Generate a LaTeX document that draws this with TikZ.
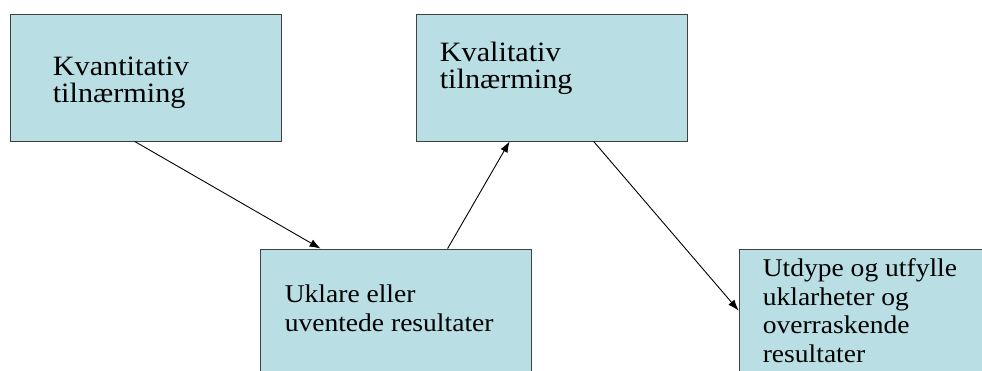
\documentclass[tikz,border=0pt]{standalone}
\usepackage{fontspec}
\newfontfamily\slidefont[FakeStretch=1.08]{Liberation Serif}
\usetikzlibrary{arrows.meta}
\definecolor{boxfill}{RGB}{185,223,228}
\definecolor{boxline}{RGB}{64,64,64}

\begin{document}
\begin{tikzpicture}[x=1pt,y=-1pt]
\tikzset{
% One style for the boxes, two for their texts, one for the arrows
box node/.style={rectangle,draw=boxline,fill=boxfill,line width=0.8pt,minimum width=271pt,minimum height=127pt,inner sep=0pt},
big text/.style={align=left,inner sep=0pt,anchor=base west,font=\slidefont\fontsize{28}{27}\selectfont},
small text/.style={align=left,inner sep=0pt,anchor=base west,font=\slidefont\fontsize{25.5}{28.5}\selectfont},
link/.style={line width=0.9pt,-{Latex[length=11pt,width=8pt]}}
}
\useasboundingbox (0,0) rectangle (982,371);

% The boxes
\node(kvant)[box node] at (145.5,77.5){};
\node(kval)[box node] at (551.5,77.5){};
\node(uklar)[box node] at (396,312.5){};
\node(utdype)[box node] at (874.5,312.5){};

% The texts (placed by the baseline of their last line)
\node(kvant text)[big text] at ([xshift=43pt,yshift=-89pt]kvant.north west){Kvantitativ\\tilnærming};
\node(kval text)[big text] at ([xshift=24pt,yshift=-75pt]kval.north west){Kvalitativ\\tilnærming};
\node(uklar text)[small text] at ([xshift=24.5pt,yshift=-82.5pt]uklar.north west){Uklare eller\\uventede resultater};
\node(utdype text)[small text] at ([xshift=24pt,yshift=-113.5pt]utdype.north west){Utdype og utfylle\\uklarheter og\\overraskende\\resultater};

% The arrows
\draw[link] ([xshift=125pt]kvant.south west) -- ([xshift=60.5pt]uklar.north west);
\draw[link] ([xshift=187.5pt]uklar.north west) -- ([xshift=94pt]kval.south west);
\draw[link] ([xshift=178pt]kval.south west) -- ([yshift=-62pt]utdype.north west);

\end{tikzpicture}
\end{document}
